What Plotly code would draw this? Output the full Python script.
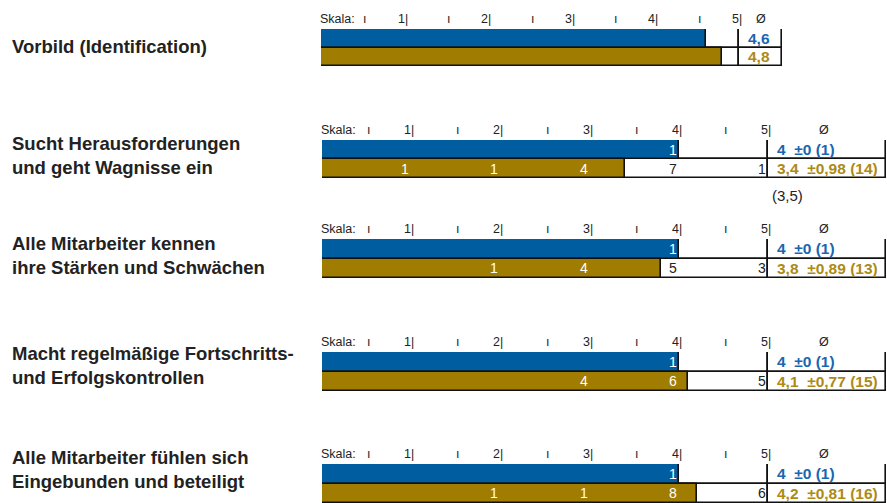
import plotly.graph_objects as go

# ---------------- data ----------------
labels = [
    "Vorbild (Identification)",
    "Sucht Herausforderungen<br>und geht Wagnisse ein",
    "Alle Mitarbeiter kennen<br>ihre Stärken und Schwächen",
    "Macht regelmäßige Fortschritts-<br>und Erfolgskontrollen",
    "Alle Mitarbeiter fühlen sich<br>Eingebunden und beteiligt",
]
series = ["Selbstbild", "Fremdbild"]
scale = [1, 2, 3, 4, 5]
blue_mean = [4.6, 4.0, 4.0, 4.0, 4.0]
gold_mean = [4.8, 3.4, 3.8, 4.1, 4.2]
blue_sd = [None, 0, 0, 0, 0]
gold_sd = [None, 0.98, 0.89, 0.77, 0.81]
blue_n = [None, 1, 1, 1, 1]
gold_n = [None, 14, 13, 15, 16]
blue_counts = [None, [0, 0, 0, 1, 0], [0, 0, 0, 1, 0], [0, 0, 0, 1, 0], [0, 0, 0, 1, 0]]
gold_counts = [None, [1, 1, 4, 7, 1], [0, 1, 4, 5, 3], [0, 0, 4, 6, 5], [0, 1, 1, 8, 6]]
notes = [None, "(3,5)", None, None, None]

# ---------------- style / layout ----------------
W, H = 887, 503
BLUE, GOLD = "#005EA0", "#A07D00"
BLUE_TXT, GOLD_TXT = "#1A66B0", "#AD8A14"
FONT = "Liberation Sans, Arial, sans-serif"
TXT = "#222222"
# per group: left px, px per unit, right px, bar top px, row height
geo = [
    (321, 83.6, 782, 29, 18.5),
    (322, 89.2, 886, 140, 19),
    (322, 89.2, 886, 239, 19.5),
    (322, 89.2, 886, 352, 19.5),
    (322, 89.2, 886, 464, 19.5),
]
label_y = [47, 156, 256, 365, 469]


def fmt(v):
    return ("%g" % v).replace(".", ",")


def mean_text(m, sd, n):
    if sd is None:
        return fmt(m)
    return f"{fmt(m)}\u00a0 ±{fmt(sd)} ({n})"


fig = go.Figure()
ann = []
layout_axes = {}
line = dict(color="#111111", width=1.6)

for i in range(5):
    left, unit, right, top, rh = geo[i]
    xmax = (right - left) / unit
    sfx = "" if i == 0 else str(i + 1)
    xa, ya = "x" + sfx, "y" + sfx
    layout_axes["xaxis" + sfx] = dict(domain=[left / W, right / W], range=[0, xmax],
                                      visible=False, fixedrange=True, anchor=ya)
    layout_axes["yaxis" + sfx] = dict(domain=[1 - (top + 2 * rh) / H, 1 - top / H],
                                      type="category", categoryarray=series,
                                      range=[1.5, -0.5], visible=False,
                                      fixedrange=True, anchor=xa)
    # frame 0..5
    fig.add_trace(go.Bar(y=series, x=[max(scale)] * 2, base=0, orientation="h",
                         width=1, marker=dict(color="white", line=line),
                         xaxis=xa, yaxis=ya, hoverinfo="skip", showlegend=False))
    # mean bars
    fig.add_trace(go.Bar(y=[series[0]], x=[blue_mean[i]], base=0, orientation="h",
                         width=1, marker=dict(color=BLUE, line=line),
                         xaxis=xa, yaxis=ya, name=series[0], showlegend=False))
    fig.add_trace(go.Bar(y=[series[1]], x=[gold_mean[i]], base=0, orientation="h",
                         width=1, marker=dict(color=GOLD, line=line),
                         xaxis=xa, yaxis=ya, name=series[1], showlegend=False))
    # mean box
    fig.add_trace(go.Bar(y=series, x=[xmax - max(scale)] * 2, base=max(scale),
                         orientation="h", width=1,
                         marker=dict(color="white", line=line),
                         xaxis=xa, yaxis=ya, hoverinfo="skip", showlegend=False))

    hdr = dict(xref=xa, yref=ya + " domain", y=1, yanchor="bottom", yshift=1,
               showarrow=False, font=dict(family=FONT, size=12.5, color=TXT))
    ann.append(dict(hdr, x=0, xanchor="left", xshift=-3, text="Skala:"))
    for v in scale:
        ann.append(dict(hdr, x=v - 0.5, xanchor="center", xshift=2, text="ı"))
        ann.append(dict(hdr, x=v, xanchor="right", xshift=5, text=f"{v}|"))
    ann.append(dict(hdr, x=(max(scale) + xmax) / 2, xanchor="center",
                    xshift=-3 if i else 0, text="Ø"))

    # mean texts
    for s, m, sd, n, col in ((series[0], blue_mean[i], blue_sd[i], blue_n[i], BLUE_TXT),
                             (series[1], gold_mean[i], gold_sd[i], gold_n[i], GOLD_TXT)):
        ann.append(dict(xref=xa, yref=ya, x=max(scale), y=s, xanchor="left",
                        xshift=7, yanchor="middle", showarrow=False,
                        text=mean_text(m, sd, n),
                        font=dict(family=FONT, size=15.5, color=col, weight="bold")))

    # count labels
    for s, counts, m in ((series[0], blue_counts[i], blue_mean[i]),
                         (series[1], gold_counts[i], gold_mean[i])):
        if counts is None:
            continue
        for v, c in zip(scale, counts):
            if c == 0:
                continue
            ann.append(dict(xref=xa, yref=ya, x=v, y=s, xanchor="right",
                            xshift=0, yanchor="middle", showarrow=False,
                            text=str(c),
                            font=dict(family=FONT, size=14,
                                      color="white" if v <= m else TXT)))
    if notes[i]:
        ann.append(dict(xref=xa, yref=ya + " domain", x=max(scale), y=0,
                        xanchor="left", xshift=2, yanchor="top", yshift=-7,
                        showarrow=False, text=notes[i],
                        font=dict(family=FONT, size=15, color=TXT)))

    # category label
    ann.append(dict(xref="paper", yref="paper", x=10 / W, y=1 - label_y[i] / H,
                    xanchor="left", yanchor="middle", align="left",
                    showarrow=False, text=labels[i],
                    font=dict(family=FONT, size=18.5, color=TXT, weight="bold")))

fig.update_layout(
    width=W, height=H, margin=dict(l=0, r=0, t=0, b=0),
    paper_bgcolor="white", plot_bgcolor="white",
    barmode="overlay", bargap=0, showlegend=False,
    annotations=ann, **layout_axes,
)
fig.write_html("out.html", config={"displayModeBar": False},
               post_script="document.body.style.margin='0';")
